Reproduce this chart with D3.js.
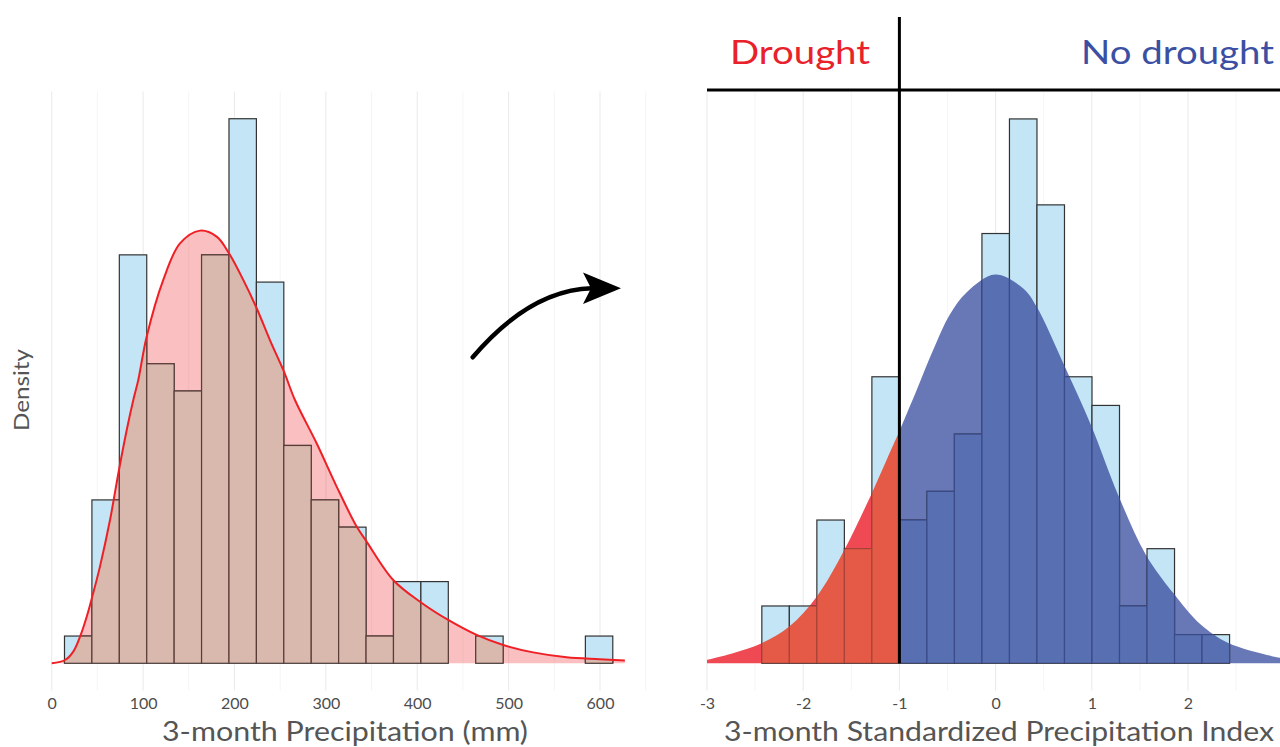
<!DOCTYPE html>
<html lang="en">
<head>
  <meta charset="UTF-8">
  <title>Precipitation to SPI</title>
  <style>
    body { margin: 0; background: #fff; font-family: Lato, 'Open Sans', 'DejaVu Sans', sans-serif; }
    svg { display: block; }
    .tick text { font-size: 16px; fill: #4d4d4d; font-family: Lato, 'Open Sans', sans-serif; }
  </style>
</head>
<body>
  <div id="chart"></div>

  <script src="https://d3js.org/d3.v7.min.js"></script>
  <script>
    // Left panel: 3-month precipitation histogram (counts per 30 mm bin) + fitted density
    const precipBinStart = 14;
    const precipBinWidth = 30;
    const precipCounts = [1, 6, 15, 11, 10, 15, 20, 14, 8, 6, 5, 1, 3, 3, 0, 1, 0, 0, 0, 1];
    const precipTicks = [0, 100, 200, 300, 400, 500, 600];
    // fitted curve, [mm, height in count units]
    const precipDensity = [
      [0, 0], [14.6, 0.12], [23.6, 0.43], [31, 0.98], [38.3, 1.71], [44.4, 2.45],
      [52.8, 3.55], [63.8, 5.26], [73.6, 7.1], [82.1, 8.57], [89.3, 9.67], [94.7, 10.4],
      [103.9, 11.99], [122.1, 14.08], [140.4, 15.42], [162.3, 15.89], [180.5, 15.67],
      [194, 15.06], [209.6, 14.08], [224.3, 13.04], [238.8, 11.87], [254.2, 10.71],
      [266.2, 9.67], [289.9, 8.08], [311.8, 6.49], [333.7, 5.02],
      [344.6, 4.47], [373.7, 3.06], [403, 2.26], [433.9, 1.59], [465, 1.04],
      [494.1, 0.67], [526.9, 0.4], [563.5, 0.22], [599.9, 0.15], [627.2, 0.1]
    ];

    // Right panel: SPI histogram + standardised curve
    const spiBinStart = -2.43;
    const spiBinWidth = 0.286;
    const spiCounts = [2, 2, 5, 4, 10, 5, 6, 8, 15, 19, 16, 10, 9, 2, 4, 1, 1];
    const spiTicks = [-3, -2, -1, 0, 1, 2, 3];
    const spiDensity = [
      [-3, 0.115], [-2.73, 0.35], [-2.431, 0.7], [-2.145, 1.28], [-1.86, 2.32],
      [-1.573, 3.95], [-1.288, 5.93], [-1.132, 7.1], [-1, 8.1], [-0.82, 9.54],
      [-0.648, 10.94], [-0.474, 12.18], [-0.3, 12.95], [-0.006, 13.57], [0.288, 13.08],
      [0.427, 12.44], [0.708, 10.44], [0.992, 8.31], [1.276, 5.86], [1.56, 3.8],
      [1.847, 2.45], [2.132, 1.35], [2.419, 0.71], [2.956, 0.19], [3.05, 0.15]
    ];
    const droughtThreshold = -1;

    const W = 1280, H = 747;
    const svg = d3.select('#chart').append('svg').attr('width', W).attr('height', H);
    const defs = svg.append('defs');

    const font = "Lato, 'Open Sans', sans-serif";
    const barBlue = '#c3e5f5';
    const smooth = d3.curveCatmullRom.alpha(0.5);

    function bins(start, width, counts) {
      return counts.map((c, i) => ({ x0: start + i * width, x1: start + (i + 1) * width, n: c }))
        .filter(d => d.n > 0);
    }

    function drawBars(g, data, x, y, fill, stroke) {
      g.selectAll('rect').data(data).join('rect')
        .attr('x', d => x(d.x0)).attr('width', d => x(d.x1) - x(d.x0))
        .attr('y', d => y(d.n)).attr('height', d => y(0) - y(d.n))
        .attr('fill', fill).attr('stroke', stroke).attr('stroke-width', 1.2);
    }

    // ---------- left panel ----------
    const xL = d3.scaleLinear().domain([0, 600]).range([51.7, 600]);
    const yL = d3.scaleLinear().domain([-1, 21]).range([690.5, 91.5]);
    const gL = svg.append('g');

    gL.append('g').selectAll('line')
      .data(d3.range(0, 651, 50))
      .join('line')
      .attr('x1', d => xL(d)).attr('x2', d => xL(d))
      .attr('y1', yL(21)).attr('y2', yL(-1))
      .attr('stroke', d => d % 100 === 0 ? '#ebebeb' : '#f3f3f3')
      .attr('stroke-width', d => d % 100 === 0 ? 1.1 : 0.8);

    const areaL = d3.area().curve(smooth)
      .x(d => xL(d[0])).y0(yL(0)).y1(d => yL(d[1]));
    const lineL = d3.line().curve(smooth)
      .x(d => xL(d[0])).y(d => yL(d[1]));

    defs.append('clipPath').attr('id', 'clipL')
      .append('path').attr('d', areaL(precipDensity));

    const binsL = bins(precipBinStart, precipBinWidth, precipCounts);

    gL.append('path').attr('d', areaL(precipDensity))
      .attr('fill', '#ee2a2e').attr('fill-opacity', 0.3);

    drawBars(gL.append('g'), binsL, xL, yL, barBlue, '#333');
    drawBars(gL.append('g').attr('clip-path', 'url(#clipL)'), binsL, xL, yL, '#d9b8ad', '#5a3c37');

    gL.append('path').attr('d', lineL(precipDensity))
      .attr('fill', 'none').attr('stroke', '#ee2026').attr('stroke-width', 2);

    const axL = gL.append('g').attr('transform', 'translate(0,690)')
      .call(d3.axisBottom(xL).tickValues(precipTicks).tickSize(0).tickPadding(8));
    axL.select('.domain').remove();

    gL.append('text').attr('x', 345).attr('y', 741).attr('text-anchor', 'middle')
      .attr('font-family', font).attr('font-size', 26).attr('fill', '#555')
      .attr('textLength', 366).attr('lengthAdjust', 'spacingAndGlyphs')
      .text('3-month Precipitation (mm)');

    svg.append('text').attr('transform', 'translate(29,390) rotate(-90)')
      .attr('text-anchor', 'middle').attr('font-family', font).attr('font-size', 22)
      .attr('fill', '#555').attr('textLength', 82).attr('lengthAdjust', 'spacingAndGlyphs')
      .text('Density');

    // ---------- right panel ----------
    const xR = d3.scaleLinear().domain([-3, 3]).range([707, 1284.2]);
    const yR = d3.scaleLinear().domain([-0.95, 19.95]).range([690.5, 91.7]);
    const gR = svg.append('g');

    gR.append('g').selectAll('line')
      .data(d3.range(-3, 3.01, 0.5))
      .join('line')
      .attr('x1', d => xR(d)).attr('x2', d => xR(d))
      .attr('y1', yR(19.95)).attr('y2', yR(-0.95))
      .attr('stroke', d => Number.isInteger(d) ? '#ebebeb' : '#f3f3f3')
      .attr('stroke-width', d => Number.isInteger(d) ? 1.1 : 0.8);

    const areaR = d3.area().curve(smooth)
      .x(d => xR(d[0])).y0(yR(0)).y1(d => yR(d[1]));

    const dryPart = spiDensity.filter(d => d[0] <= droughtThreshold);
    const wetPart = spiDensity.filter(d => d[0] >= droughtThreshold);

    defs.append('clipPath').attr('id', 'clipDry').append('path').attr('d', areaR(dryPart));
    defs.append('clipPath').attr('id', 'clipWet').append('path').attr('d', areaR(wetPart));

    const binsR = bins(spiBinStart, spiBinWidth, spiCounts);

    gR.append('path').attr('d', areaR(dryPart)).attr('fill', '#ef4a54');
    gR.append('path').attr('d', areaR(wetPart)).attr('fill', '#6877b6');

    drawBars(gR.append('g'), binsR, xR, yR, barBlue, '#333');
    drawBars(gR.append('g').attr('clip-path', 'url(#clipDry)'), binsR, xR, yR, '#e55a46', '#a9433a');
    drawBars(gR.append('g').attr('clip-path', 'url(#clipWet)'), binsR, xR, yR, '#5870b2', '#3b4a88');

    const axR = gR.append('g').attr('transform', 'translate(0,690)')
      .call(d3.axisBottom(xR).tickValues(spiTicks).tickFormat(d => String(d))
        .tickSize(0).tickPadding(8));
    axR.select('.domain').remove();

    gR.append('text').attr('x', 999).attr('y', 741).attr('text-anchor', 'middle')
      .attr('font-family', font).attr('font-size', 26).attr('fill', '#555')
      .attr('textLength', 550).attr('lengthAdjust', 'spacingAndGlyphs')
      .text('3-month Standardized Precipitation Index');

    // threshold lines
    gR.append('line')
      .attr('x1', xR(-3)).attr('x2', W)
      .attr('y1', 90).attr('y2', 90)
      .attr('stroke', '#000').attr('stroke-width', 3);
    gR.append('line')
      .attr('x1', xR(droughtThreshold)).attr('x2', xR(droughtThreshold))
      .attr('y1', 17).attr('y2', yR(0))
      .attr('stroke', '#000').attr('stroke-width', 3);

    gR.append('text').attr('x', 800).attr('y', 64).attr('text-anchor', 'middle')
      .attr('font-family', font).attr('font-size', 33).attr('fill', '#e8212b')
      .attr('textLength', 140).attr('lengthAdjust', 'spacingAndGlyphs')
      .text('Drought');
    gR.append('text').attr('x', 1274).attr('y', 64).attr('text-anchor', 'end')
      .attr('font-family', font).attr('font-size', 33).attr('fill', '#3b4fa3')
      .attr('textLength', 193).attr('lengthAdjust', 'spacingAndGlyphs')
      .text('No drought');

    // curved arrow between the panels
    svg.append('path')
      .attr('d', 'M472.7,357.3 Q530,290 592,288.3')
      .attr('fill', 'none').attr('stroke', '#000').attr('stroke-width', 4.5)
      .attr('stroke-linecap', 'round');
    svg.append('path')
      .attr('d', 'M621,288.3 L583,272.5 L591,288.3 L583,304 Z')
      .attr('fill', '#000');
  </script>
</body>
</html>
